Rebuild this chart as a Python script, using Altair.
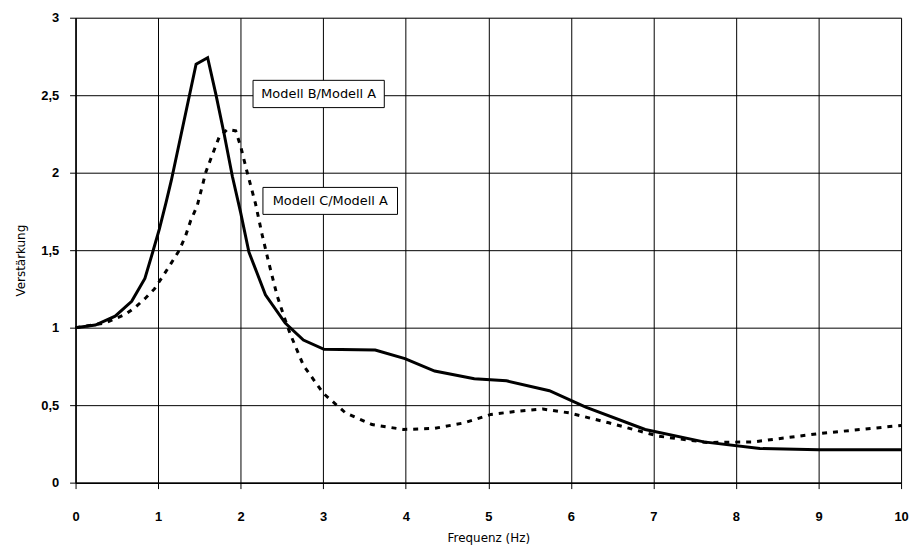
import altair as alt
import pandas as pd

# Modell B / Modell A (solid)
freq_b = [0, 0.24, 0.48, 0.68, 0.84, 0.935, 1.015, 1.095, 1.16, 1.46, 1.6, 1.7, 1.8, 1.9, 2.0, 2.1,
          2.3, 2.54, 2.76, 3.01, 3.63, 3.99, 4.35, 4.83, 5.22, 5.74, 6.18, 6.9, 7.61, 8.29, 9.0, 10.0]
amp_b = [1.0, 1.017, 1.074, 1.17, 1.318, 1.488, 1.636, 1.805, 1.95, 2.70, 2.742, 2.505, 2.25, 1.975,
         1.742, 1.488, 1.212, 1.03, 0.92, 0.86, 0.856, 0.80, 0.72, 0.67, 0.657, 0.593, 0.487, 0.343,
         0.263, 0.22, 0.212, 0.212]

# Modell C / Modell A (dashed)
freq_c = [0, 0.36, 0.6, 0.72, 0.84, 0.956, 1.055, 1.155, 1.255, 1.334, 1.394, 1.473, 1.58, 1.66, 1.74,
          1.84, 1.94, 2.0, 2.08, 2.18, 2.26, 2.34, 2.44, 2.52, 2.6, 2.76, 3.0, 3.27, 3.59, 3.97, 4.35,
          4.71, 5.03, 5.34, 5.66, 5.98, 6.46, 7.06, 7.65, 8.21, 9.0, 10.0]
amp_c = [1.0, 1.03, 1.085, 1.13, 1.187, 1.25, 1.33, 1.413, 1.498, 1.594, 1.69, 1.785, 2.007, 2.12, 2.23,
         2.28, 2.27, 2.17, 2.0, 1.80, 1.60, 1.42, 1.21, 1.08, 0.96, 0.757, 0.577, 0.45, 0.375, 0.343,
         0.35, 0.386, 0.44, 0.46, 0.475, 0.45, 0.386, 0.30, 0.259, 0.263, 0.316, 0.369]

# annotation labels
label_text = ["Modell B/Modell A", "Modell C/Modell A"]
label_x = [2.945, 3.085]
label_y = [2.508, 1.818]
box_x1 = [2.15, 2.27]
box_x2 = [3.74, 3.90]
box_y1 = [2.42, 1.731]
box_y2 = [2.596, 1.905]

df_b = pd.DataFrame({"f": freq_b, "v": amp_b})
df_c = pd.DataFrame({"f": freq_c, "v": amp_c})
df_lab = pd.DataFrame({"t": label_text, "x": label_x, "y": label_y,
                       "x1": box_x1, "x2": box_x2, "y1": box_y1, "y2": box_y2})

xscale = alt.Scale(domain=[0, 10], nice=False)
yscale = alt.Scale(domain=[0, 3], nice=False)

xaxis = alt.Axis(title="Frequenz (Hz)", values=list(range(11)), format="d", grid=True,
                 gridColor="black", gridOpacity=1, gridWidth=1,
                 domainColor="black", domainWidth=1.5,
                 tickColor="black", tickSize=6, tickWidth=1,
                 labelFlush=False, labelOverlap=False,
                 labelFont="Liberation Sans", labelFontWeight="bold", labelFontSize=13,
                 labelColor="black", labelPadding=22,
                 titleFont="DejaVu Sans", titleFontWeight="normal", titleFontSize=12,
                 titleColor="black", titlePadding=9)
yaxis = alt.Axis(title="Verstärkung", values=[0, 0.5, 1, 1.5, 2, 2.5, 3], grid=True,
                 gridColor="black", gridOpacity=1, gridWidth=1,
                 domainColor="black", domainWidth=1.5,
                 tickColor="black", tickSize=6, tickWidth=1,
                 labelFlush=False, labelOverlap=False,
                 labelExpr="replace(format(datum.value, '~g'), '.', ',')",
                 labelFont="Liberation Sans", labelFontWeight="bold", labelFontSize=13,
                 labelColor="black", labelPadding=11,
                 titleFont="DejaVu Sans", titleFontWeight="normal", titleFontSize=12,
                 titleColor="black", titleX=-48, titleY=244)

line_b = alt.Chart(df_b).mark_line(color="black", strokeWidth=3).encode(
    x=alt.X("f:Q", scale=xscale, axis=xaxis),
    y=alt.Y("v:Q", scale=yscale, axis=yaxis),
)
line_c = alt.Chart(df_c).mark_line(color="black", strokeWidth=3, strokeDash=[5, 6]).encode(
    x=alt.X("f:Q", scale=xscale),
    y=alt.Y("v:Q", scale=yscale),
)
boxes = alt.Chart(df_lab).mark_rect(fill="white", stroke="black", strokeWidth=1).encode(
    x=alt.X("x1:Q", scale=xscale), x2="x2:Q",
    y=alt.Y("y1:Q", scale=yscale), y2="y2:Q",
)
texts = alt.Chart(df_lab).mark_text(font="DejaVu Sans", fontSize=13, color="black").encode(
    x=alt.X("x:Q", scale=xscale),
    y=alt.Y("y:Q", scale=yscale),
    text="t:N",
)

chart = alt.layer(line_b, line_c, boxes, texts).properties(
    width=831, height=468,
    autosize=alt.AutoSizeParams(type="none"),
    padding={"left": 68, "top": 8, "right": 11, "bottom": 62},
).configure_view(stroke="black", strokeWidth=1).configure(background="white")

chart.save("out.html", embed_options={"renderer": "svg", "actions": False})
